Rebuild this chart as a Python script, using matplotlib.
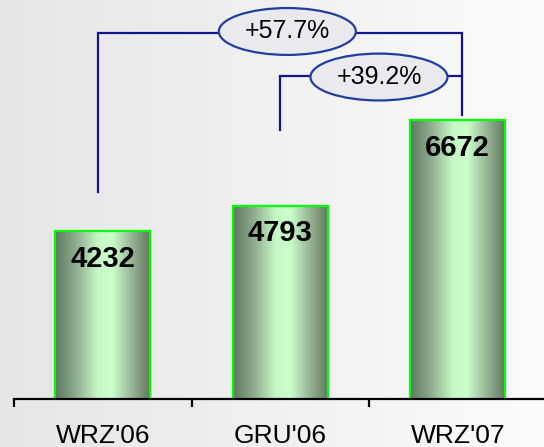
import numpy as np
import matplotlib
matplotlib.use("Agg")
import matplotlib.pyplot as plt
from matplotlib.patches import Ellipse, Rectangle
from matplotlib.colors import LinearSegmentedColormap

plt.rcParams['font.family'] = ['Liberation Sans', 'DejaVu Sans']

categories = ["WRZ'06", "GRU'06", "WRZ'07"]
values = [4232, 4793, 6672]

W, H, DPI = 544, 447, 100
fig = plt.figure(figsize=(W / DPI, H / DPI), dpi=DPI)

# background gradient
bg = fig.add_axes([0, 0, 1, 1], zorder=-5)
grad = np.linspace(0, 1, 256).reshape(1, -1)
bg_cmap = LinearSegmentedColormap.from_list("bg", ["#e6e6e6", "#fbfbfb"])
bg.imshow(grad, aspect='auto', cmap=bg_cmap, extent=[0, 1, 0, 1])
bg.set_axis_off()

# main axes
left_px, unit_px = 14, 177.5
ax_w = 3 * unit_px
ax = fig.add_axes([left_px / W, (H - 399) / H, ax_w / W, 399 / H])
ax.set_facecolor('none')
ymin, ymax = 540, 9310
ax.set_xlim(-0.5, 2.5)
ax.set_ylim(ymin, ymax)

bar_w = 0.535
bar_cmap = LinearSegmentedColormap.from_list(
    "bar", [(0.0, "#5f785f"), (0.2, "#8aa88a"), (0.45, "#c6f6c6"),
            (0.6, "#ccffcc"), (0.8, "#9ab89a"), (1.0, "#627a62")])
bgrad = np.linspace(0, 1, 200).reshape(1, -1)

x = np.arange(len(values))
bars = ax.bar(x, values, width=bar_w, color='none', edgecolor='#00ff00',
              linewidth=1.6, zorder=3)
for b in bars:
    x0, w, h = b.get_x(), b.get_width(), b.get_height()
    im = ax.imshow(bgrad, cmap=bar_cmap, aspect='auto',
                   extent=[x0, x0 + w, ymin, h], zorder=2)
    clip = Rectangle((x0, ymin), w, h - ymin, transform=ax.transData)
    im.set_clip_path(clip)

for xi, v in zip(x, values):
    ax.annotate(f"{v}", (xi, v), xytext=(0, -20), textcoords='offset points',
                ha='center', va='center', fontsize=21, fontweight='bold',
                color='black', zorder=5)

# axes styling
for s in ['top', 'right', 'left']:
    ax.spines[s].set_visible(False)
ax.spines['bottom'].set_linewidth(1.6)
ax.spines['bottom'].set_zorder(4)
ax.set_yticks([])
ax.set_xticks([-0.5, 0.5, 1.5])
ax.set_xticklabels([])
ax.tick_params(axis='x', which='major', direction='out', length=6,
               width=1.6, color='black')
ax.set_xticks(x, minor=True)
ax.set_xticklabels(categories, minor=True, fontsize=19)
ax.tick_params(axis='x', which='minor', length=0, pad=18)

# growth brackets
line_c = '#14148c'
ell_edge = '#1f3f9f'
ell_face = '#e9e9ee'
outer_y, inner_y = 8585, 7639
right_x = 2.024
g_outer = (values[2] / values[0] - 1) * 100
g_inner = (values[2] / values[1] - 1) * 100

ax.plot([-0.027, -0.027, right_x, right_x], [5089, outer_y, outer_y, 6782],
        color=line_c, lw=1.6, zorder=4, solid_joinstyle='miter')
ax.plot([0.999, 0.999, right_x], [6452, inner_y, inner_y],
        color=line_c, lw=1.6, zorder=4, solid_joinstyle='miter')

for cx, cy, txt in [(1.04, 8618, f"+{g_outer:.1f}%"),
                    (1.556, 7617, f"+{g_inner:.1f}%")]:
    e = Ellipse((cx, cy), 0.772, 1030, facecolor=ell_face, edgecolor=ell_edge,
                lw=1.6, zorder=6)
    ax.add_patch(e)
    ax.text(cx, cy, txt, ha='center', va='center', fontsize=18,
            color='black', zorder=7)

fig.savefig("out.png", dpi=DPI)
